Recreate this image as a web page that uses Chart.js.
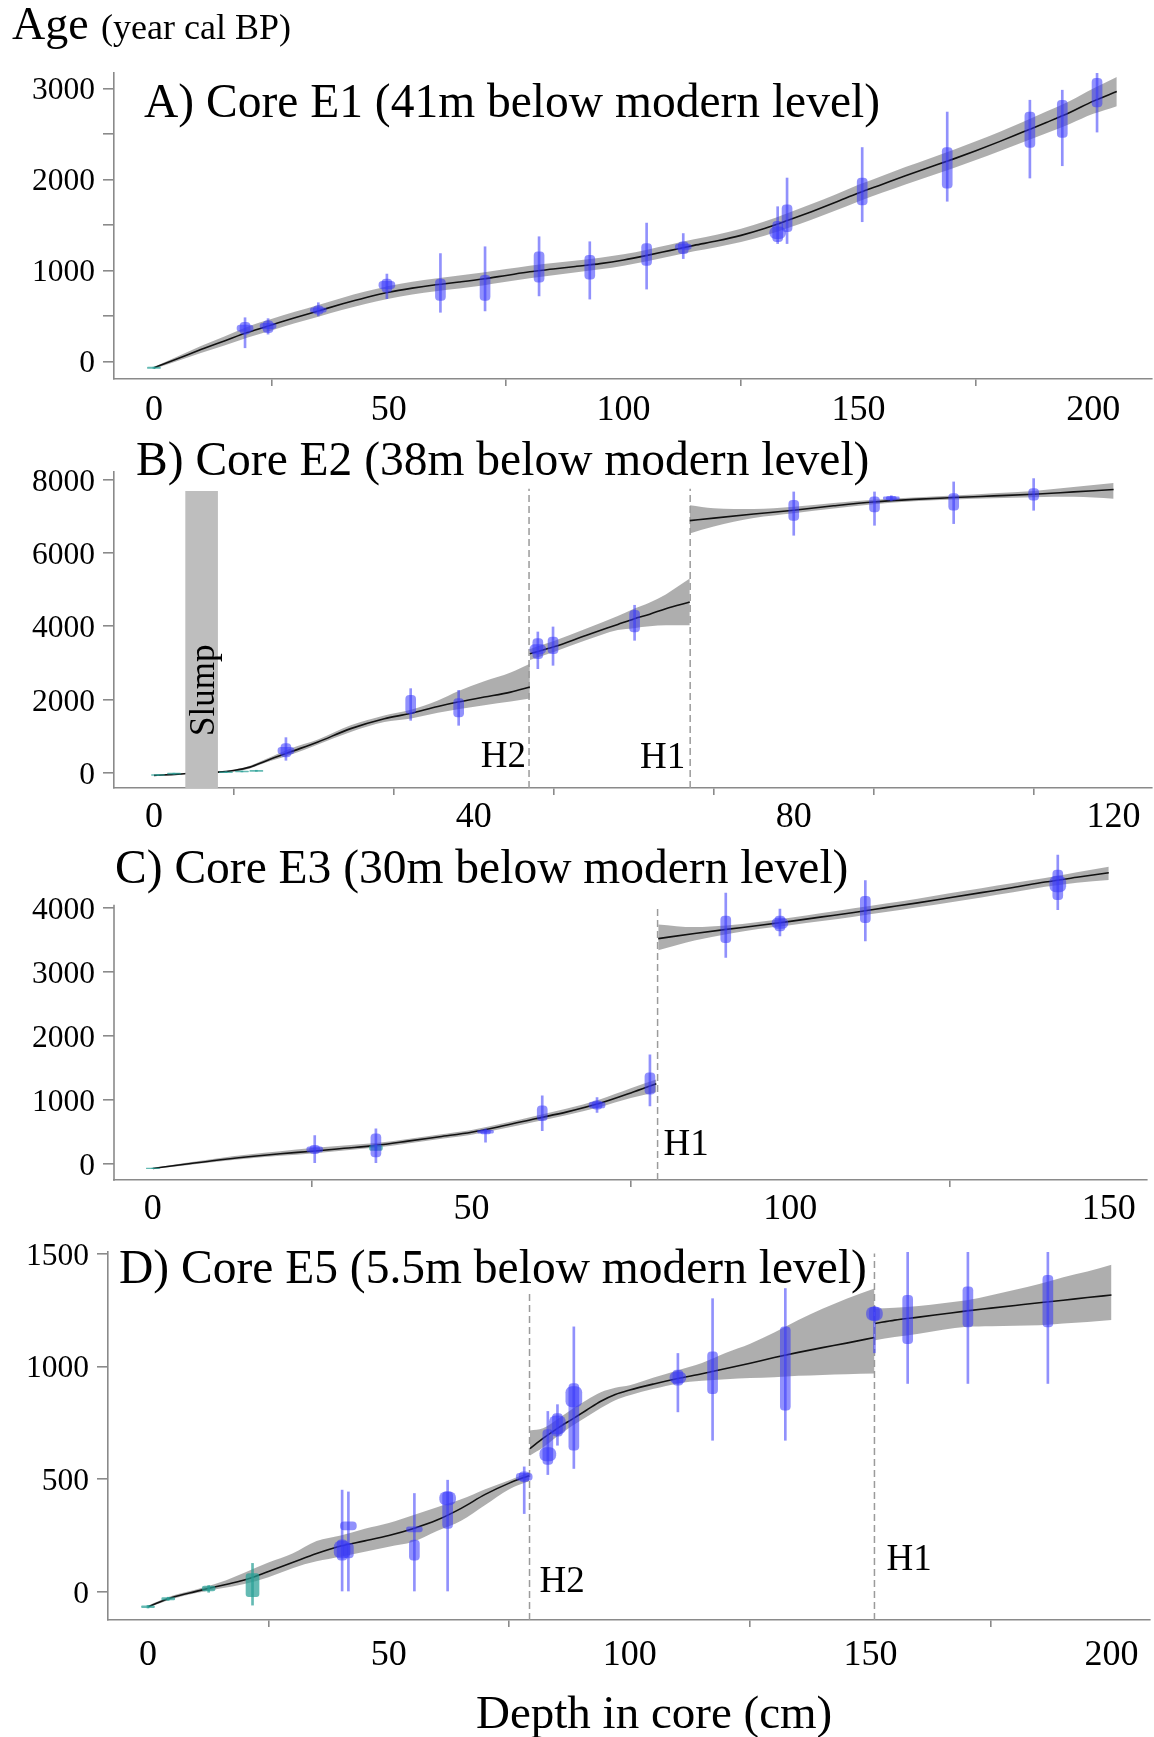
<!DOCTYPE html>
<html><head><meta charset="utf-8">
<script src="https://cdn.jsdelivr.net/npm/chart.js@4.4.1/dist/chart.umd.min.js"></script>
<style>
html,body{margin:0;padding:0;background:#fff;}
body{width:1154px;height:1737px;position:relative;overflow:hidden;font-family:"Liberation Serif","Times New Roman",serif;}
canvas{position:absolute;left:0;}
#ov{position:absolute;left:0;top:0;pointer-events:none;}
</style></head><body>
<canvas id="cA" width="1154" height="440" style="top:0px"></canvas>
<canvas id="cB" width="1154" height="410" style="top:440px"></canvas>
<canvas id="cC" width="1154" height="400" style="top:840px"></canvas>
<canvas id="cD" width="1154" height="460" style="top:1230px"></canvas>
<svg id="ov" width="1154" height="1737" xmlns="http://www.w3.org/2000/svg" font-family="Liberation Serif, Times New Roman, serif" fill="#000">
  <text x="12" y="39" font-size="46">Age</text>
  <text x="101" y="39" font-size="36">(year cal BP)</text>
  <text x="144" y="117" font-size="47.5">A) Core E1 (41m below modern level)</text>
  <text x="136" y="475" font-size="47.5">B) Core E2 (38m below modern level)</text>
  <text x="115" y="883" font-size="47.5">C) Core E3 (30m below modern level)</text>
  <text x="119" y="1283" font-size="47.5">D) Core E5 (5.5m below modern level)</text>
  <text x="476" y="1728" font-size="47">Depth in core (cm)</text>
</svg>
<script>
// ---------------- Panel A : Core E1 ----------------
const A_depth = [0,5,10,15,20,25,30,35,40,45,50,55,60,65,70,75,80,85,90,95,100,105,110,115,120,125,130,135,140,145,150,155,160,165,170,175,180,185,190,195,200,205];
const A_age = [-70,30,130,225,320,400,480,555,630,700,760,805,842,872,905,945,985,1015,1045,1075,1115,1165,1220,1275,1325,1385,1460,1550,1645,1745,1850,1945,2040,2130,2220,2315,2415,2520,2625,2735,2860,2965];
const A_lo = [-80,5,92,175,262,340,420,492,565,632,690,735,772,802,835,875,915,948,980,1012,1052,1102,1156,1210,1258,1312,1382,1465,1558,1655,1758,1852,1945,2032,2120,2212,2308,2408,2508,2610,2720,2805];
const A_hi = [-62,55,170,275,382,465,545,620,698,768,830,875,912,944,976,1015,1052,1082,1110,1140,1178,1228,1284,1342,1395,1458,1538,1632,1730,1832,1940,2038,2135,2228,2320,2418,2522,2632,2745,2862,2998,3125];
const A_dDepth = [19.4,24.3,35,49.6,61,70.5,82,92.8,104.9,112.7,132.8,134.8,150.8,168.9,186.5,193.4,200.8];
const A_dMin = [150,300,500,690,540,555,720,685,795,1130,1295,1295,1535,1760,2015,2150,2520];
const A_dMax = [480,470,645,960,1185,1260,1370,1315,1520,1405,1700,2015,2350,2740,2870,2980,3200];
const A_cMin = [300,315,520,760,670,670,870,905,1055,1185,1315,1425,1720,1905,2350,2460,2795];
const A_cMax = [430,445,610,905,905,945,1205,1165,1295,1315,1540,1720,2015,2350,2740,2870,3110];
const A_pMin = [330,360,540,800,null,null,null,null,null,1230,1350,null,null,null,null,null,null];
const A_pMax = [400,420,590,880,null,null,null,null,null,1290,1480,null,null,null,null,null,null];
const A_tDepth = [0];
const A_tMin = [-78];
const A_tMax = [-62];
const A_xTicks = [0,50,100,150,200];
const A_xLabels = [0,50,100,150,200];
const A_yTicks = [0,500,1000,1500,2000,2500,3000];
const A_yLabels = [0,1000,2000,3000];

// ---------------- Panel B : Core E2 ----------------
const B1_depth = [0,3,5.5,8,10,12,14,17,20.5,24.6,28.8,32,35.5,38,41.3,44.6,47];
const B1_age = [-65,-30,10,25,70,160,330,570,845,1210,1480,1620,1815,1935,2070,2205,2345];
const B1_lo = [-75,-42,-5,8,45,125,285,490,780,1120,1390,1480,1640,1740,1850,1950,2030];
const B1_hi = [-58,-18,25,45,98,198,380,660,910,1300,1570,1720,1980,2230,2500,2740,2980];
const B2_depth = [47,50,54,58,60,62,64,67];
const B2_age = [3250,3440,3750,4050,4200,4330,4480,4660];
const B2_lo = [3080,3300,3620,3900,3950,4000,4030,4030];
const B2_hi = [3380,3600,3930,4280,4480,4650,4870,5300];
const B3_depth = [67,70,75,80,85,90,95,100,105,110,115,120];
const B3_age = [6880,6950,7060,7165,7285,7390,7460,7510,7555,7600,7665,7730];
const B3_lo = [6530,6720,6950,7080,7210,7330,7410,7455,7490,7520,7530,7480];
const B3_hi = [7300,7220,7200,7260,7360,7450,7515,7565,7625,7690,7800,7910];
const B_dDepth = [16.5,32.1,38.1,48.0,49.9,60.1,80.0,90.1,92.2,100.0,110.0];
const B_dMin = [346,1436,1300,2845,2936,3618,6482,6754,7420,6800,7163];
const B_dMax = [964,2300,2253,3845,3982,4573,7663,7663,7560,7936,8027];
const B_cMin = [436,1619,1526,3118,3254,3845,6890,7118,7440,7163,7436];
const B_cMax = [801,2117,2027,3664,3709,4436,7436,7527,7545,7618,7754];
const B_pMin = [520,null,null,3250,null,null,null,null,7460,null,null];
const B_pMax = [700,null,null,3500,null,null,null,null,7530,null,null];
const B_tDepth = [0.5,2.5,9,11,12.8];
const B_tMin = [-65,-30,10,30,45];
const B_tMax = [-45,-5,35,55,75];
const B_slumpDepth = [3.9,8.0];
const B_slumpTop = 7690;
const B_hiatus = [46.9,67.05];
const B_hiatusTop = 7750;
const B_xTicks = [0,20,40,60,80,100,120];
const B_xLabels = [0,40,80,120];
const B_yTicks = [0,2000,4000,6000,8000];
const B_yLabels = [0,2000,4000,6000,8000];

// ---------------- Panel C : Core E3 ----------------
const C1_depth = [0,5,10,15,20,25,30,35,40,45,50,55,60,65,70,75,79];
const C1_age = [-77,-12,52,105,152,193,238,284,350,420,490,590,700,808,938,1105,1250];
const C1_lo = [-82,-30,28,78,122,158,204,250,315,385,452,550,655,760,880,1025,1115];
const C1_hi = [-72,8,80,140,192,242,282,320,385,456,526,630,745,860,1000,1180,1315];
const C2_depth = [79.3,85,90,95,100,105,110,115,120,125,130,135,140,145,150];
const C2_age = [3520,3600,3665,3725,3790,3860,3930,4005,4080,4160,4240,4320,4405,4480,4552];
const C2_lo = [3339,3490,3590,3670,3730,3795,3862,3935,4010,4085,4165,4245,4330,4395,4439];
const C2_hi = [3742,3700,3725,3780,3845,3920,3995,4070,4145,4230,4310,4390,4470,4560,4645];
const C_dDepth = [25.4,35,52.2,61.1,69.7,78,89.9,98.4,111.8,142];
const C_dMin = [0,0,335,516,800,903,3226,3561,3484,3974];
const C_dMax = [439,542,542,1058,1032,1703,4232,3984,4428,4826];
const C_cMin = [155,103,465,671,851,1084,3458,3639,3768,4129];
const C_cMax = [284,465,526,903,980,1419,3871,3871,4181,4594];
const C_pMin = [180,null,475,null,870,null,null,3680,null,4250];
const C_pMax = [260,null,520,null,960,null,null,3840,null,4500];
const C_tDepth = [0,35];
const C_tMin = [-82,205];
const C_tMax = [-72,285];
const C_hiatus = [79.2];
const C_hiatusTop = 4000;
const C_axisTop = 4051;
const C_xTicks = [0,50,100,150];
const C_xLabels = [0,50,100,150];
const C_yTicks = [0,1000,2000,3000,4000];
const C_yLabels = [0,1000,2000,3000,4000];

// ---------------- Panel D : Core E5 ----------------
const D1_depth = [0,5,10,15,20,25,30,35,40,45,50,55,60,65,70,75,79.1];
const D1_age = [-66,-25,2,27,52,90,130,170,203,226,250,280,318,370,432,482,515];
const D1_lo = [-70,-32,-5,15,35,65,105,135,155,178,200,222,270,315,385,455,490];
const D1_hi = [-62,-18,10,42,85,130,170,225,250,280,305,340,375,410,455,495,530];
const D2_depth = [79.3,82,85,88,91,94,97,100,105,110,115,120,125,130,135,140,145,150.8];
const D2_age = [635,680,725,765,805,845,875,895,922,946,967,990,1014,1039,1062,1083,1103,1128];
const D2_lo = [605,640,690,735,775,815,850,872,900,924,936,943,948,952,958,962,965,968];
const D2_hi = [715,725,765,810,850,885,905,916,950,983,1015,1060,1100,1150,1205,1255,1300,1345];
const D3_depth = [150.9,155,160,165,170,175,180,185,190,195,200];
const D3_age = [1190,1205,1218,1232,1246,1258,1270,1282,1293,1305,1316];
const D3_lo = [1116,1130,1145,1162,1175,1178,1180,1182,1190,1197,1205];
const D3_hi = [1256,1260,1268,1280,1293,1315,1340,1365,1395,1420,1450];
const D_dDepth = [40.3,41.6,55.3,62.2,78.1,83,85,88.4,110,117.2,132.3,150.8,157.7,170.2,186.8];
const D_dMin = [0,0,0,0,347,520,650,547,798,672,672,1060,924,924,924];
const D_dMax = [451,443,436,495,554,800,830,1175,1057,1300,1345,1265,1507,1507,1507];
const D_cMin = [140,150,140,281,488,565,690,628,916,879,805,1204,1101,1175,1175];
const D_cMax = [230,215,229,443,532,720,790,924,983,1064,1175,1263,1315,1352,1404];
const D_pMin = [150,275,266,385,495,580,700,820,925,null,null,1204,null,null,null];
const D_pMax = [225,310,288,443,525,640,780,910,975,null,null,1263,null,null,null];
const D_tDepth = [0,4.2,12.6,21.7];
const D_tMin = [-72,-38,-2,-59];
const D_tMax = [-60,-24,28,126];
const D_tcMin = [-70,-36,0,-22];
const D_tcMax = [-62,-26,25,81];
const D_hiatus = [79.2,150.8];
const D_hiatusTop = [1322,1500];
const D_xTicks = [0,50,100,150,200];
const D_xLabels = [0,50,100,150,200];
const D_yTicks = [0,500,1000,1500];
const D_yLabels = [0,500,1000,1500];

// ---------------- helpers ----------------
Chart.defaults.font.family = '"Liberation Serif","Times New Roman",serif';
Chart.defaults.color = '#000';
const AX = '#8a8a8a';
const BLUE = 'rgba(55,55,250,0.55)';
const TEAL = 'rgba(40,160,150,0.72)';
const BAND = 'rgba(135,135,135,0.68)';

function pts(xs, ys){ return xs.map((x,i)=>({x:x, y:ys[i]})); }
function ranges(xs, lo, hi){ const out=[]; xs.forEach((x,i)=>{ if(lo[i]!=null && hi[i]!=null) out.push({x:x, y:[lo[i],hi[i]]}); }); return out; }
function segment(depth, age, lo, hi){
  return [
    {type:'line', data:pts(depth,age), borderColor:'#111', borderWidth:1.6, pointRadius:0, cubicInterpolationMode:'monotone', fill:false, order:2},
    {type:'line', data:pts(depth,hi), borderColor:'rgba(0,0,0,0)', borderWidth:0, pointRadius:0, cubicInterpolationMode:'monotone', fill:'+1', backgroundColor:BAND, order:6},
    {type:'line', data:pts(depth,lo), borderColor:'rgba(0,0,0,0)', borderWidth:0, pointRadius:0, cubicInterpolationMode:'monotone', fill:false, order:6}
  ];
}
function bars(data, color, w, order, radius){
  return {type:'bar', data:data, backgroundColor:color, barThickness:w, grouped:false, borderWidth:0, borderSkipped:false, borderRadius:radius||0, order:order};
}
function violins(d, mn, mx, cmn, cmx, pmn, pmx, color){
  const s = [bars(ranges(d,mn,mx), color, 2, 1), bars(ranges(d,cmn,cmx), color, 10, 1, 4)];
  if (pmn) s.push(bars(ranges(d,pmn,pmx), color, 16, 1, 6));
  return s;
}
function teal(d, mn, mx, cmn, cmx){
  const s = [bars(ranges(d,mn,mx), TEAL, 2, 1)];
  s.push(bars(ranges(d,cmn||mn,cmx||mx), TEAL, 13, 1, 3));
  return s;
}
function hiatus(x, top, ymin){
  return {type:'line', data:[{x:x,y:ymin},{x:x,y:top}], borderColor:'#9b9b9b', borderWidth:1.5, borderDash:[7,4], pointRadius:0, fill:false, order:3};
}
// y-axis line that stops at a given value (used where data rise above the axis end)
const axisLinePlugin = {
  id:'axisLine',
  afterDraw(chart, args, opts){
    if (opts.yTop == null) return;
    const ctx = chart.ctx, a = chart.chartArea, y = chart.scales.y;
    ctx.save(); ctx.strokeStyle = AX; ctx.lineWidth = 1.6;
    ctx.beginPath(); ctx.moveTo(a.left, y.getPixelForValue(opts.yTop)); ctx.lineTo(a.left, a.bottom + 0.8); ctx.stroke();
    ctx.restore();
  }
};
function build(id, P, datasets){
  return new Chart(document.getElementById(id), {
    type:'line',
    data:{datasets:datasets},
    plugins:[axisLinePlugin],
    options:{
      responsive:false, animation:false, events:[],
      layout:{padding:{top:P.padTop, right:P.padRight, left:0, bottom:0}},
      plugins:{legend:{display:false}, tooltip:{enabled:false}, axisLine:{yTop:P.axisTop}},
      scales:{
        x:{type:'linear', min:P.xmin, max:P.xmax, offset:false,
           afterBuildTicks:function(s){ s.ticks = P.xTicks.map(v => ({value:v})); },
           afterFit:function(s){ s.height = P.xH; },
           border:{display:true, color:AX, width:1.6},
           grid:{drawOnChartArea:false, drawTicks:true, tickLength:7, color:AX, lineWidth:1.6},
           ticks:{autoSkip:false, maxRotation:0, minRotation:0, padding:P.xPad, color:'#000', font:{size:36},
                  callback:function(v){ return P.xLabels.indexOf(v) >= 0 ? String(v) : ''; }}},
        y:{type:'linear', min:P.ymin, max:P.ymax,
           afterBuildTicks:function(s){ s.ticks = P.yTicks.map(v => ({value:v})); },
           afterFit:function(s){ s.width = P.yW; },
           border:{display:P.axisTop == null, color:AX, width:1.6},
           grid:{drawOnChartArea:false, drawTicks:true, tickLength:11, color:AX, lineWidth:1.6},
           ticks:{autoSkip:false, padding:8, color:'#000', font:{size:1},
                  callback:function(){ return ''; }}}
      }
    }
  });
}

// ---------------- Panel A ----------------
const PA = {padTop:73, padRight:2, xH:61, yW:114, xmin:-8.5, xmax:212.5, xPad:3, ymin:-193, ymax:3169, xTicks:A_xTicks, xLabels:A_xLabels, yTicks:A_yTicks};
const chA = build('cA', PA, [].concat(
  violins(A_dDepth, A_dMin, A_dMax, A_cMin, A_cMax, A_pMin, A_pMax, BLUE),
  teal(A_tDepth, A_tMin, A_tMax),
  segment(A_depth, A_age, A_lo, A_hi)
));

// ---------------- Panel B ----------------
const PB = {padTop:32, padRight:2, xH:62, yW:114, xmin:-5, xmax:124.8, xPad:1, ymin:-409, ymax:8207, xTicks:B_xTicks, xLabels:B_xLabels, yTicks:B_yTicks};
const chB = build('cB', PB, [].concat(
  [{type:'line', data:pts(B_slumpDepth, [B_slumpTop, B_slumpTop]), borderColor:'rgba(0,0,0,0)', borderWidth:0, pointRadius:0, fill:{value:PB.ymin}, backgroundColor:'#bebebe', order:0}],
  violins(B_dDepth, B_dMin, B_dMax, B_cMin, B_cMax, B_pMin, B_pMax, BLUE),
  teal(B_tDepth, B_tMin, B_tMax),
  B_hiatus.map(h => hiatus(h, B_hiatusTop, PB.ymin)),
  segment(B1_depth, B1_age, B1_lo, B1_hi),
  segment(B2_depth, B2_age, B2_lo, B2_hi),
  segment(B3_depth, B3_age, B3_lo, B3_hi)
));

// ---------------- Panel C ----------------
const PC = {padTop:5, padRight:7, xH:60, yW:114, xmin:-6.1, xmax:156, xPad:1, ymin:-258, ymax:4929, axisTop:C_axisTop, xTicks:C_xTicks, xLabels:C_xLabels, yTicks:C_yTicks};
const chC = build('cC', PC, [].concat(
  violins(C_dDepth, C_dMin, C_dMax, C_cMin, C_cMax, C_pMin, C_pMax, BLUE),
  teal(C_tDepth, C_tMin, C_tMax),
  C_hiatus.map(h => hiatus(h, C_hiatusTop, PC.ymin)),
  segment(C1_depth, C1_age, C1_lo, C1_hi),
  segment(C2_depth, C2_age, C2_lo, C2_hi)
));

// ---------------- Panel D ----------------
const PD = {padTop:22, padRight:4, xH:70, yW:108, xmin:-8.3, xmax:208, xPad:7, ymin:-125, ymax:1507, xTicks:D_xTicks, xLabels:D_xLabels, yTicks:D_yTicks};
const chD = build('cD', PD, [].concat(
  violins(D_dDepth, D_dMin, D_dMax, D_cMin, D_cMax, D_pMin, D_pMax, BLUE),
  teal(D_tDepth, D_tMin, D_tMax, D_tcMin, D_tcMax),
  D_hiatus.map((h,i) => hiatus(h, D_hiatusTop[i], PD.ymin)),
  segment(D1_depth, D1_age, D1_lo, D1_hi),
  segment(D2_depth, D2_age, D2_lo, D2_hi),
  segment(D3_depth, D3_age, D3_lo, D3_hi)
));

// ---------------- text placed through the chart scales (SVG) ----------------
const svg = document.getElementById('ov');
function addText(x, y, txt, size, anchor, rotate){
  const t = document.createElementNS('http://www.w3.org/2000/svg','text');
  t.setAttribute('font-size', size);
  t.setAttribute('text-anchor', anchor);
  if (rotate) { t.setAttribute('transform', 'translate(' + x + ',' + y + ') rotate(' + rotate + ')'); }
  else { t.setAttribute('x', x); t.setAttribute('y', y); }
  t.textContent = txt;
  svg.appendChild(t);
}
function label(chart, top, xv, yv, dx, txt, size, anchor, rotate){
  addText(chart.scales.x.getPixelForValue(xv) + dx, top + chart.scales.y.getPixelForValue(yv), txt, size, anchor, rotate);
}
function yTickLabels(chart, top, labels){
  const ys = chart.scales.y;
  const xr = chart.chartArea.left - 11 - 8;
  labels.forEach(v => addText(xr, top + ys.getPixelForValue(v) + 11, String(v), 31.5, 'end'));
}
yTickLabels(chA, 0, A_yLabels);
yTickLabels(chB, 440, B_yLabels);
yTickLabels(chC, 840, C_yLabels);
yTickLabels(chD, 1230, D_yLabels);
label(chB, 440, 46.9, 164, -3, 'H2', 37, 'end');
label(chB, 440, 67.05, 128, -5, 'H1', 37, 'end');
label(chB, 440, 7.5, 2255, 0, 'Slump', 35, 'middle', -90);
label(chC, 840, 79.2, 128, 6, 'H1', 37, 'start');
label(chD, 1230, 79.2, 0, 10, 'H2', 37, 'start');
label(chD, 1230, 150.8, 96, 12, 'H1', 37, 'start');
</script>
</body></html>
